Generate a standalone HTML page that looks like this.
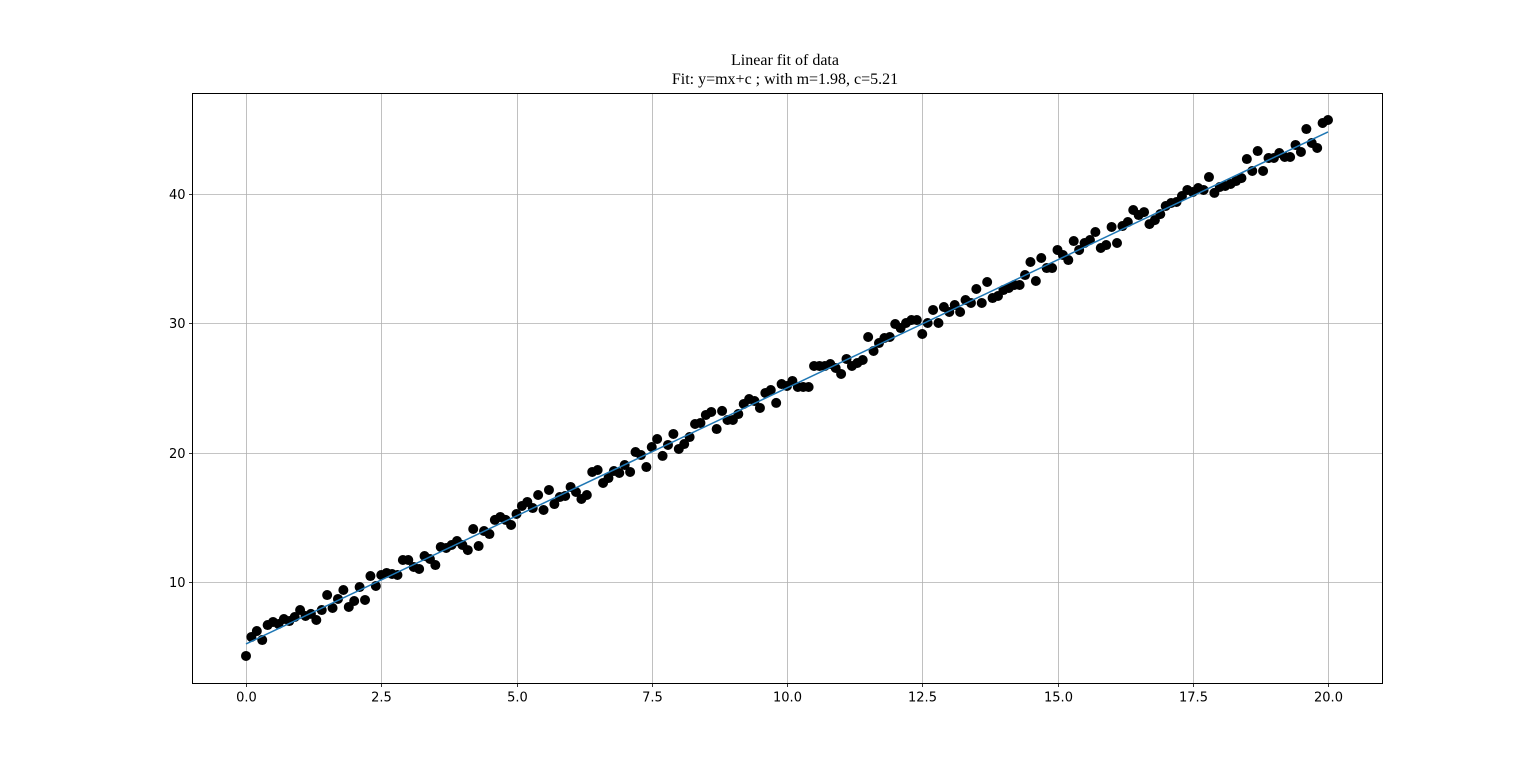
<!DOCTYPE html>
<html><head><meta charset="utf-8"><style>
html,body{margin:0;padding:0;background:#fff;width:1536px;height:767px;overflow:hidden}
svg text{font-family:"DejaVu Sans","Liberation Sans",sans-serif}
</style></head><body>
<svg id="chart" width="1536" height="767" xmlns="http://www.w3.org/2000/svg">
<text x="785" y="65" text-anchor="middle" font-size="16" style="font-family:'Liberation Serif',serif">Linear fit of data</text>
<text x="785" y="84" text-anchor="middle" font-size="16" style="font-family:'Liberation Serif',serif">Fit: y=mx+c ; with m=1.98, c=5.21</text>
<g id="grid"></g>
<g id="ticks"></g>
<g id="points"></g>
<g id="fit"></g>
<rect x="192.5" y="93.5" width="1190" height="590" fill="none" stroke="#000" stroke-width="1"/>
</svg>
<script>
const yValues=[4.28,5.75,6.21,5.51,6.67,6.91,6.75,7.14,6.98,7.29,7.83,7.37,7.53,7.06,7.83,8.99,7.99,8.69,9.38,8.07,8.53,9.61,8.61,10.46,9.69,10.54,10.70,10.62,10.54,11.70,11.70,11.16,11.01,12.01,11.78,11.31,12.71,12.63,12.86,13.17,12.86,12.47,14.10,12.78,13.94,13.71,14.80,15.03,14.80,14.41,15.26,15.88,16.19,15.72,16.73,15.57,17.12,16.03,16.57,16.65,17.35,16.96,16.42,16.73,18.51,18.66,17.66,18.04,18.58,18.43,19.05,18.51,20.05,19.82,18.89,20.44,21.06,19.75,20.60,21.45,20.29,20.67,21.21,22.22,22.30,22.92,23.15,21.83,23.23,22.53,22.53,22.99,23.77,24.15,24.00,23.46,24.62,24.85,23.85,25.31,25.16,25.55,25.08,25.08,25.08,26.71,26.71,26.71,26.86,26.55,26.09,27.25,26.71,26.94,27.17,28.95,27.87,28.48,28.87,28.95,29.95,29.64,30.03,30.26,30.26,29.18,30.03,31.04,30.03,31.27,30.88,31.42,30.88,31.81,31.58,32.66,31.58,33.20,31.96,32.12,32.58,32.74,32.97,32.97,33.74,34.75,33.28,35.06,34.28,34.28,35.68,35.29,34.90,36.37,35.68,36.22,36.45,37.07,35.83,36.06,37.46,36.22,37.53,37.84,38.77,38.38,38.61,37.68,37.99,38.45,39.08,39.31,39.39,39.85,40.32,40.16,40.47,40.32,41.32,40.09,40.55,40.63,40.78,41.01,41.24,42.71,41.79,43.33,41.79,42.79,42.79,43.18,42.87,42.87,43.80,43.26,45.03,43.95,43.57,45.50,45.73];
const xMin=0,xMax=20;
const fitSlope=1.98, fitIntercept=5.21;
const xTicks=[0,2.5,5,7.5,10,12.5,15,17.5,20];
const xTickLabels=["0.0","2.5","5.0","7.5","10.0","12.5","15.0","17.5","20.0"];
const yTicks=[10,20,30,40];
const yTickLabels=["10","20","30","40"];

const NS="http://www.w3.org/2000/svg";
const L=192.5,R=1382.5,T=93.5,B=683.5;
const xs=v=>246+(v-0)*(1328-246)/20;
const ys=v=>711.3-v*12.93;
function mk(tag,attrs,parent){const e=document.createElementNS(NS,tag);for(const k in attrs)e.setAttribute(k,attrs[k]);parent.appendChild(e);return e;}
const grid=document.getElementById('grid'),ticks=document.getElementById('ticks'),pts=document.getElementById('points'),fit=document.getElementById('fit');
xTicks.forEach((t,i)=>{const x=Math.round(xs(t))+0.5;
 const g=mk('line',{x1:x,x2:x,y1:T,y2:B,stroke:'#b0b0b0','stroke-width':0.8},grid);
 
 
 const tk=mk('line',{x1:x,x2:x,y1:B,y2:B+3.5,stroke:'#000','stroke-width':0.8},ticks);
 
 
 const tx=mk('text',{x:x,y:B+18,'text-anchor':'middle','font-size':13},ticks);tx.textContent=xTickLabels[i];
 
 
});
yTicks.forEach((t,i)=>{const y=Math.round(ys(t))+0.5;
 const g=mk('line',{x1:L,x2:R,y1:y,y2:y,stroke:'#b0b0b0','stroke-width':0.8},grid);
 
 
 const tk=mk('line',{x1:L-3.5,x2:L,y1:y,y2:y,stroke:'#000','stroke-width':0.8},ticks);
 
 
 const tx=mk('text',{x:L-7,y:y+4.5,'text-anchor':'end','font-size':13},ticks);tx.textContent=yTickLabels[i];
 
 
});
const n=yValues.length;
yValues.forEach((v,i)=>{const xv=xMin+i*(xMax-xMin)/(n-1);
 const c=mk('circle',{cx:xs(xv),cy:ys(v),r:5,fill:'#000'},pts);
 
 
});
const fl=mk('line',{x1:xs(xMin),y1:ys(fitSlope*xMin+fitIntercept),x2:xs(xMax),y2:ys(fitSlope*xMax+fitIntercept),stroke:'#1f77b4','stroke-width':1.5},fit);


</script>
</body></html>
